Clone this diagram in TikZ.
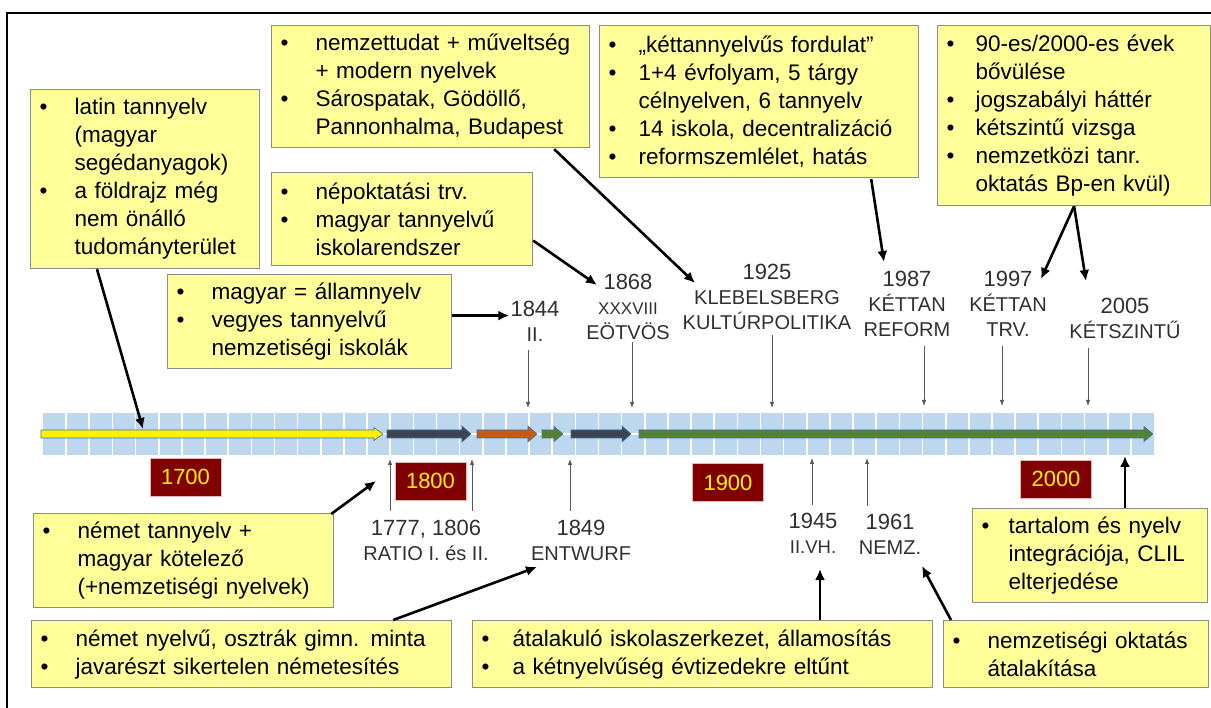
\documentclass[tikz,border=0pt]{standalone}
\usepackage{fontspec}
\setmainfont{Liberation Sans}
\usetikzlibrary{arrows.meta,calc}
\definecolor{boxfill}{HTML}{FFFF99}
\definecolor{boxline}{HTML}{8C8C8C}
\definecolor{cell}{HTML}{BDD7EE}
\definecolor{yr}{HTML}{800000}
\definecolor{yrline}{HTML}{E6B9B8}
\definecolor{arrline}{HTML}{41719C}
\definecolor{darkar}{HTML}{3B4452}
\definecolor{orangear}{HTML}{C55A11}
\definecolor{greenar}{HTML}{548235}
\definecolor{lbl}{HTML}{303030}
\definecolor{thinar}{HTML}{595959}
\newlength{\bw}
\setlength{\bw}{36pt}
\newcommand{\bul}{\makebox[\bw][l]{\hspace{1pt}•}}
\newcommand{\ind}{\hspace*{\bw}}
\newcommand{\sm}{\fontsize{20}{25}\selectfont}
\newcommand{\barr}[4]{%
  \filldraw[fill=#3, draw=arrline, line width=0.6pt] (#1,430) -- ({#2-9},430) -- ({#2-9},{434-#4}) -- (#2,434) -- ({#2-9},{434+#4}) -- ({#2-9},438) -- (#1,438) -- cycle;}
\tikzset{
  note/.style={draw=boxline, line width=1.2pt, fill=boxfill, anchor=north west, align=left,
    inner xsep=8pt, inner ysep=0pt, font=\fontsize{22.5}{28}\selectfont, text=black},
  yearbox/.style={draw=yrline, line width=0.8pt, fill=yr, text=yellow,
    font=\fontsize{22}{26}\selectfont, minimum width=71pt, minimum height=38pt, inner sep=0pt},
  lab/.style={text=lbl, align=center, inner sep=1pt, font=\fontsize{22}{25}\selectfont},
  thinarrow/.style={draw=thinar, line width=0.8pt, -{Latex[length=6pt,width=4.5pt]}},
  callout/.style={draw=black, line width=2.6pt, -{Latex[length=11pt,width=10pt]}}
}
\begin{document}
\begin{tikzpicture}[x=1pt,y=-1pt]
\useasboundingbox (0,0) rectangle (1211,708);
\draw[line width=1.8pt] (7,708) -- (7,13) -- (1211,13);

% timeline bar
\fill[cell] (43,413) rectangle (1154,455);
\foreach \i in {1,...,47} \draw[white,line width=1.6pt] ({43+\i*23.146},413) -- ({43+\i*23.146},455);
\draw[white,line width=1.6pt] (43,434) -- (1154,434);
\barr{41}{383}{yellow}{6.5}
\barr{387}{471}{darkar}{8}
\barr{477}{537}{orangear}{8}
\barr{542}{563}{greenar}{7.5}
\barr{571}{631}{darkar}{8}
\barr{639}{1153}{greenar}{7.5}

% year boxes
\node[yearbox] (y1700) at (185.5,477) {1700};
\node[yearbox] (y1800) at (430.5,481) {1800};
\node[yearbox] (y1900) at (728,482.5) {1900};
\node[yearbox] (y2000) at (1056,479) {2000};

% labels above
\node[lab] (l1844) at (535,321) {1844\\\sm II.};
\node[lab] (l1868) at (628,306.5) {1868\\\fontsize{17}{23}\selectfont XXXVIII\\\sm EÖTVÖS};
\node[lab] (l1925) at (767,297) {1925\\\sm KLEBELSBERG\\\sm KULTÚRPOLITIKA};
\node[lab] (l1987) at (907,304) {1987\\\sm KÉTTAN\\\sm REFORM};
\node[lab] (l1997) at (1008,304) {1997\\\sm KÉTTAN\\\sm TRV.};
\node[lab] (l2005) at (1125,318.5) {2005\\\sm KÉTSZINTŰ};

% labels below
\node[lab] (l1777) at (426,540) {1777, 1806\\\sm RATIO I. és II.};
\node[lab] (l1849) at (581,540) {1849\\\sm ENTWURF};
\node[lab] (l1945) at (813,533) {1945\\\fontsize{18.5}{24}\selectfont II.VH.};
\node[lab] (l1961) at (890,534) {1961\\\sm NEMZ.};

% note boxes
\node[note, text width=213pt, minimum height=179pt] (latin) at (30,89)
  {\bul latin tannyelv\\\ind(magyar\\\ind segédanyagok)\\\bul a földrajz még\\\ind nem önálló\\\ind tudományterület};
\node[note, text width=302pt, minimum height=122pt] (nemz) at (271,25)
  {\bul nemzettudat + műveltség\\\ind + modern nyelvek\\\bul Sárospatak, Gödöllő,\\\ind Pannonhalma, Budapest};
\node[note, text width=245pt, minimum height=93pt] (nepokt) at (271,172)
  {\bul népoktatási trv.\\\bul magyar tannyelvű\\\ind iskolarendszer};
\node[note, text width=268pt, minimum height=94pt] (magyar) at (167,274)
  {\bul magyar = államnyelv\\\bul vegyes tannyelvű\\\ind nemzetiségi iskolák};
\node[note, text width=303pt, minimum height=152pt] (kett) at (599,25)
  {\setlength{\bw}{31pt}\bul „kéttannyelvűs fordulat”\\\bul 1+4 évfolyam, 5 tárgy\\\ind célnyelven, 6 tannyelv\\\bul 14 iskola, decentralizáció\\\bul reformszemlélet, hatás};
\node[note, text width=257pt, minimum height=180pt] (k90) at (937,25)
  {\setlength{\bw}{30pt}\bul 90-es/2000-es évek\\\ind bővülése\\\bul jogszabályi háttér\\\bul kétszintű vizsga\\\bul nemzetközi tanr.\\\ind oktatás Bp-en kvül)};
\node[note, text width=284pt, minimum height=94pt] (nemet1) at (33,513)
  {\bul német tannyelv +\\\ind magyar kötelező\\\ind (+nemzetiségi nyelvek)};
\node[note, text width=404pt, minimum height=67pt] (nemet2) at (31,620)
  {\bul német nyelvű, osztrák gimn. minta\\\bul javarészt sikertelen németesítés};
\node[note, text width=444pt, minimum height=67pt] (atal) at (472,620)
  {\setlength{\bw}{32pt}\bul átalakuló iskolaszerkezet, államosítás\\\bul a kétnyelvűség évtizedekre eltűnt};
\node[note, text width=249pt, minimum height=67pt] (nemzok) at (943,620)
  {\bul nemzetiségi oktatás\\\ind átalakítása};
\node[note, text width=219pt, minimum height=94pt] (clil) at (972,508)
  {\setlength{\bw}{28pt}\bul tartalom és nyelv\\\ind integrációja, CLIL\\\ind elterjedése};

% coordinates
\coordinate (pYel) at (143,429);
\coordinate (a1868) at (597,285);
\coordinate (a1925) at (695,283);
\coordinate (a1987) at (884,262);
\coordinate (a1997) at (1041,279);
\coordinate (a2005) at (1086,281);
\coordinate (a1800) at (376,481);
\coordinate (a1849) at (537,567);
\coordinate (a1945) at (820,569);
\coordinate (a1961) at (922,566);
\coordinate (bClil) at (1125,456);
\coordinate (b1844) at (528,408);
\coordinate (b1868) at (632,408);
\coordinate (b1925) at (772,408);
\coordinate (b1987) at (924,406);
\coordinate (b1997) at (1002,406);
\coordinate (b2005) at (1088,406);
\coordinate (c1777) at (390,459);
\coordinate (c1806) at (472,459);
\coordinate (c1849) at (570,459);
\coordinate (c1945) at (812,458);
\coordinate (c1961) at (867,458);
\coordinate (m1) at ($(magyar.east)+(0,-6)$);

% thin year pointers
\draw[thinarrow] ($(l1844.south -| b1844)+(0,8)$) -- (b1844);
\draw[thinarrow] ($(l1868.south -| b1868)+(0,2)$) -- (b1868);
\draw[thinarrow] ($(l1925.south -| b1925)+(0,4)$) -- (b1925);
\draw[thinarrow] ($(l1987.south -| b1987)+(0,8)$) -- (b1987);
\draw[thinarrow] ($(l1997.south -| b1997)+(0,8)$) -- (b1997);
\draw[thinarrow] ($(l2005.south -| b2005)+(0,8)$) -- (b2005);
\draw[thinarrow] ($(l1777.north -| c1777)+(0,-8)$) -- (c1777);
\draw[thinarrow] ($(l1777.north -| c1806)+(0,-8)$) -- (c1806);
\draw[thinarrow] ($(l1849.north -| c1849)+(0,-8)$) -- (c1849);
\draw[thinarrow] ($(l1945.north -| c1945)+(0,-7)$) -- (c1945);
\draw[thinarrow] ($(l1961.north -| c1961)+(0,-7)$) -- (c1961);

% callout arrows
\draw[callout] ($(latin.south west)+(67,0)$) -- (pYel);
\draw[callout] (m1) -- (m1 -| l1844.west);
\draw[callout] ($(nepokt.east)+(0,21.5)$) -- (a1868);
\draw[callout] ($(nemz.south east)+(-36,1)$) -- (a1925);
\draw[callout] ($(kett.south east)+(-48,1)$) -- (a1987);
\draw[callout] (k90.south) -- (a1997);
\draw[callout] (k90.south) -- (a2005);
\draw[callout] ($(nemet1.north east)+(-3,1)$) -- (a1800);
\draw[callout] ($(nemet2.north east)+(-59,0)$) -- (a1849);
\draw[callout] (atal.north -| a1945) -- (a1945);
\draw[callout] ($(nemzok.north west)+(8,0)$) -- (a1961);
\draw[callout] (clil.north -| bClil) -- (bClil);
\end{tikzpicture}
\end{document}
